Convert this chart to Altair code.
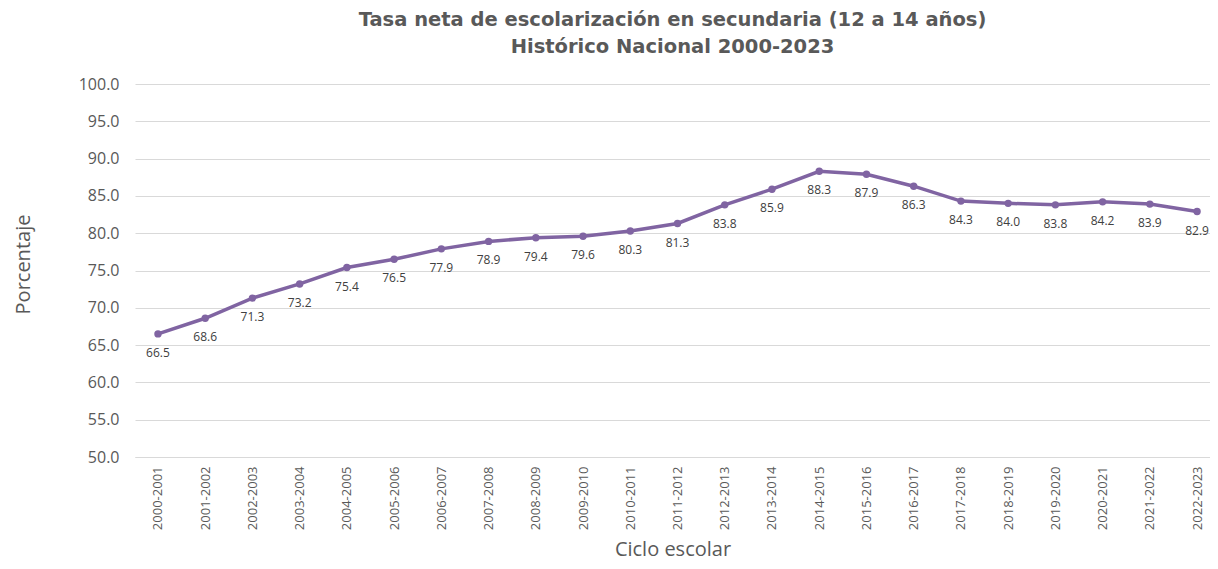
import altair as alt
import pandas as pd

ciclos = ["2000-2001", "2001-2002", "2002-2003", "2003-2004", "2004-2005", "2005-2006",
          "2006-2007", "2007-2008", "2008-2009", "2009-2010", "2010-2011", "2011-2012",
          "2012-2013", "2013-2014", "2014-2015", "2015-2016", "2016-2017", "2017-2018",
          "2018-2019", "2019-2020", "2020-2021", "2021-2022", "2022-2023"]
tasa = [66.5, 68.6, 71.3, 73.2, 75.4, 76.5, 77.9, 78.9, 79.4, 79.6, 80.3, 81.3,
        83.8, 85.9, 88.3, 87.9, 86.3, 84.3, 84.0, 83.8, 84.2, 83.9, 82.9]
y_ticks = [50, 55, 60, 65, 70, 75, 80, 85, 90, 95, 100]

df = pd.DataFrame({"ciclo": ciclos, "tasa": tasa})

FONT = "Open Sans"
PURPLE = "#8064a2"

x = alt.X("ciclo:N", sort=ciclos, scale=alt.Scale(padding=0.38, align=0.64),
          axis=alt.Axis(title="Ciclo escolar", labelAngle=-90, labelAlign="right",
                        labelBaseline="middle", labelFontSize=13, labelColor="#595959",
                        labelFont=FONT, labelPadding=9, ticks=False, domain=True,
                        domainColor="#d9d9d9", titleFont=FONT, titleFontSize=20,
                        titleFontWeight="normal", titleColor="#595959",
                        titleBaseline="middle", titleY=92, grid=False))
y = alt.Y("tasa:Q", scale=alt.Scale(domain=[50, 100], nice=False, zero=False),
          axis=alt.Axis(title="Porcentaje", values=y_ticks, format=".1f",
                        labelFontSize=16, labelColor="#595959", labelFont=FONT,
                        labelPadding=16, ticks=False, domain=False, gridColor="#d9d9d9",
                        gridWidth=1, titleFont=FONT, titleFontSize=20,
                        titleFontWeight="normal", titleColor="#595959",
                        titleX=-112, titleY=180, titleBaseline="middle",
                        titleAngle=-90))

base = alt.Chart(df).encode(x=x, y=y)
line = base.mark_line(color=PURPLE, strokeWidth=3.5)
pts = base.mark_point(filled=True, color=PURPLE, size=55, opacity=1)
labels = base.mark_text(dy=19, fontSize=12, font=FONT, color="#404040",
                        baseline="middle").encode(text=alt.Text("tasa:Q", format=".1f"))

chart = (line + pts + labels).properties(
    width=1075, height=373,
    autosize=alt.AutoSizeParams(type="none"),
    padding={"left": 127, "top": 76, "right": 0, "bottom": 104},
    title=alt.TitleParams(
        text=["Tasa neta de escolarización en secundaria (12 a 14 años)",
              "Histórico Nacional 2000-2023"],
        font="DejaVu Sans", fontSize=19.5, fontWeight="bold", color="#595959",
        anchor="middle", offset=19, lineHeight=27),
).configure_view(stroke=None)

chart.save("out.html", embed_options={"renderer": "svg", "actions": False})
